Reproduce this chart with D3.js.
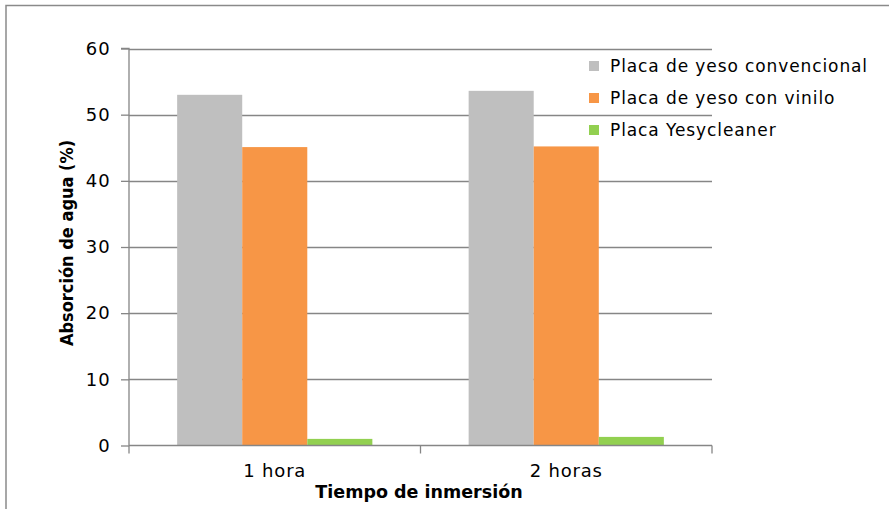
<!DOCTYPE html>
<html><head><meta charset="utf-8">
<script src="https://cdn.jsdelivr.net/npm/d3@7"></script>
<style>
html,body{margin:0;padding:0;background:#fff;}
svg{display:block;font-family:"DejaVu Sans",sans-serif;}
</style></head>
<body>
<svg id="c" width="889" height="509"></svg>
<script>
const categories = ["1 hora", "2 horas"];
const seriesNames = ["Placa de yeso convencional", "Placa de yeso con vinilo", "Placa Yesycleaner"];
const convencional = [53.0, 53.6];
const vinilo = [45.1, 45.2];
const yesycleaner = [1.0, 1.3];
const yTicks = [0, 10, 20, 30, 40, 50, 60];
const colors = ["#BFBFBF", "#F79646", "#92D050"];
const values = [convencional, vinilo, yesycleaner];

const svg = d3.select("#c");
const plot = {left: 129, right: 712, top: 48.5, bottom: 445.5};

// outer chart border (cropped)
svg.append("path").attr("d", "M6,509 V5.5 H889").attr("fill","none").attr("stroke","#8a8a8a").attr("stroke-width",1.5);

const x0 = d3.scaleBand().domain(categories).range([plot.left, plot.right]).paddingInner(0).paddingOuter(0);
const x1 = d3.scaleBand().domain(seriesNames).range([0, x0.bandwidth()]).paddingInner(0).paddingOuter(0.74);
const y = d3.scaleLinear().domain([0, 60]).range([plot.bottom, plot.top]);

// gridlines
svg.append("g").selectAll("line").data(yTicks.filter(d=>d>0)).join("line")
  .attr("x1", plot.left).attr("x2", plot.right)
  .attr("y1", d=>Math.round(y(d))+0.5).attr("y2", d=>Math.round(y(d))+0.5)
  .attr("stroke","#868686").attr("stroke-width",1.3);

// bars
const g = svg.append("g");
categories.forEach((c, ci) => {
  seriesNames.forEach((s, si) => {
    g.append("rect")
      .attr("x", x0(c) + x1(s))
      .attr("width", x1.bandwidth())
      .attr("y", y(values[si][ci]))
      .attr("height", y(0) - y(values[si][ci]))
      .attr("fill", colors[si]);
  });
});

// y axis
const yAxis = d3.axisLeft(y).tickValues(yTicks).tickSize(8).tickPadding(10).tickFormat(d3.format("d"));
const ya = svg.append("g").attr("transform", `translate(${plot.left},0)`).call(yAxis);
ya.select(".domain").attr("stroke","#868686").attr("stroke-width",1.3).attr("d", `M-8,${plot.top}H0V${plot.bottom}`);
ya.selectAll(".tick line").attr("stroke","#868686").attr("stroke-width",1.3);
ya.selectAll(".tick text").attr("font-size",18).attr("fill","#000").attr("font-family","DejaVu Sans").attr("letter-spacing",1.2);

// x axis
const xAxis = d3.axisBottom(x0).tickSize(0).tickPadding(19);
const xa = svg.append("g").attr("transform", `translate(0,${plot.bottom})`).call(xAxis);
xa.select(".domain").attr("stroke","#868686").attr("stroke-width",1.3).attr("d", `M${plot.left},0H${plot.right}`);
xa.selectAll(".tick text").attr("font-size",18).attr("fill","#000").attr("font-family","DejaVu Sans").attr("letter-spacing",0.8);
// category boundary ticks
const bounds = [plot.left, x0(categories[1]), plot.right];
xa.append("g").selectAll("line").data(bounds).join("line")
  .attr("x1", d=>d).attr("x2", d=>d).attr("y1",0).attr("y2",8)
  .attr("stroke","#868686").attr("stroke-width",1.3);

// axis titles
svg.append("text").attr("x", 419).attr("y", 498)
  .attr("text-anchor","middle").attr("font-weight","bold").attr("font-size",17.5)
  .text("Tiempo de inmersión");
svg.append("text").attr("transform", `translate(73,243) rotate(-90)`)
  .attr("text-anchor","middle").attr("font-weight","bold").attr("font-size",18)
  .attr("font-family","'Liberation Sans Narrow','DejaVu Sans Condensed',sans-serif")
  .text("Absorción de agua (%)");

// legend
const leg = svg.append("g").attr("transform","translate(589,66)");
seriesNames.forEach((s, i) => {
  const row = leg.append("g").attr("transform", `translate(0,${i*32})`);
  row.append("rect").attr("x",0).attr("y",-5).attr("width",10).attr("height",10).attr("fill",colors[i]);
  row.append("text").attr("x",21).attr("y",0).attr("dy","0.35em").attr("font-size",17).attr("letter-spacing",0.9).text(s);
});
</script>
</body></html>
